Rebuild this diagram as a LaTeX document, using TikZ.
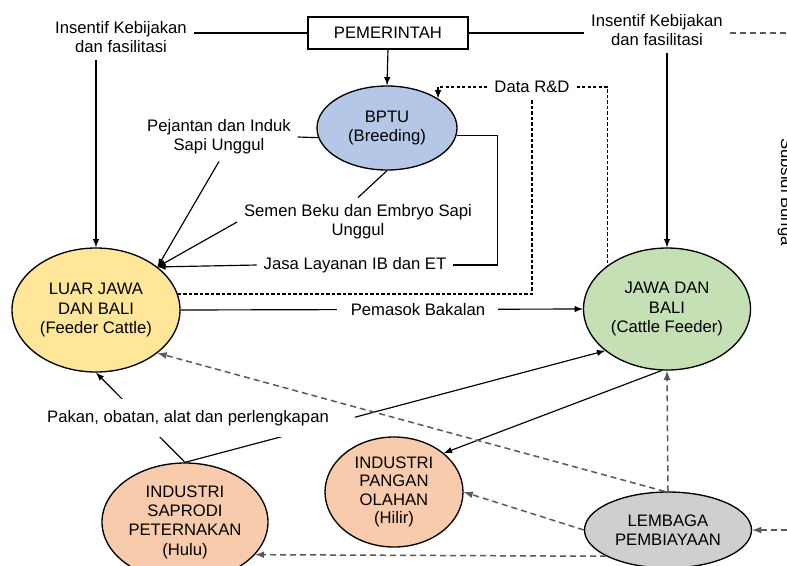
\documentclass[tikz,border=0pt]{standalone}
\usepackage{fontspec}
\setmainfont{Liberation Sans}
\usetikzlibrary{shapes.geometric,calc}

\definecolor{bptublue}{RGB}{180,199,231}
\definecolor{feederyellow}{RGB}{255,230,153}
\definecolor{cattlegreen}{RGB}{197,224,180}
\definecolor{industrisalmon}{RGB}{248,203,173}
\definecolor{banklgray}{RGB}{208,206,206}

\begin{document}
\begin{tikzpicture}[x=0.6pt,y=-0.6pt,>=latex,
  font=\fontsize{10}{11.6}\selectfont,
  oval/.style={ellipse,draw,line width=0.8pt,inner sep=0pt,align=center},
  lbl/.style={align=center,inner sep=4pt},
  link/.style={line width=0.7pt},
  rddash/.style={line width=0.75pt,dash pattern=on 2pt off 1.3pt},
  fundash/.style={line width=0.9pt,draw=black!65,dash pattern=on 3.6pt off 2.4pt}]

\useasboundingbox (0,0) rectangle (787,565);

% lembaga dan sektor
\node[draw,line width=0.8pt,minimum width=96pt,minimum height=19.2pt] (gov) at (388,33) {PEMERINTAH};
\node[oval,fill=bptublue,minimum width=84pt,minimum height=50.4pt] (bptu) at (387,128) {BPTU\\(Breeding)};
\node[oval,fill=feederyellow,minimum width=100.8pt,minimum height=74.4pt] (luar) at (96,310) {LUAR JAWA\\DAN BALI\\(Feeder Cattle)};
\node[oval,fill=cattlegreen,minimum width=100.2pt,minimum height=73.2pt] (jawa) at (667,309) {JAWA DAN\\BALI\\(Cattle Feeder)};
\node[oval,fill=industrisalmon,minimum width=99.6pt,minimum height=70.8pt] (saprodi) at (185,522) {INDUSTRI\\SAPRODI\\PETERNAKAN\\(Hulu)};
\node[oval,fill=industrisalmon,minimum width=82.8pt,minimum height=66pt,font=\fontsize{10}{11}\selectfont] (pangan) at (394,492) {INDUSTRI\\PANGAN\\OLAHAN\\(Hilir)};
\node[oval,fill=banklgray,minimum width=100.2pt,minimum height=45.6pt] (lembaga) at (668,530) {LEMBAGA\\PEMBIAYAAN};

% teks
\node[lbl] (kebL) at (121,37) {Insentif Kebijakan\\dan fasilitasi};
\node[lbl] (kebR) at (657,30) {Insentif Kebijakan\\dan fasilitasi};
\node[lbl] (rd) at (532,87) {Data R\&D};
\node[lbl] (pej) at (219,137) {Pejantan dan Induk\\Sapi Unggul};
\node[lbl] (semen) at (358,222) {Semen Beku dan Embryo Sapi\\Unggul};
\node[lbl] (jasa) at (355,265) {Jasa Layanan IB dan ET};
\node[rotate=-90,anchor=base] (subsidi) at (781,192) {Subsidi Bunga};

\coordinate (edgeT) at (787,33);
\coordinate (edgeB) at (787,530);

% pemerintah
\draw[link] (gov.west) -- (kebL.east |- gov.west);
\draw[link] (gov.east) -- (kebR.west |- gov.east);
\draw[fundash] (kebR.east |- gov.east) -- (edgeT);
\draw[link,->] (luar.north |- kebL.south) -- (luar.north);
\draw[link,->] (jawa.north |- kebR.south) -- (jawa.north);
\draw[link,->] (gov.south) -- (bptu.north);

% data R&D
\draw[rddash,->] (rd.west) -| (bptu.30);
\draw[rddash] (rd.east) -| (jawa.144);
\draw[rddash] (luar.11) -| (rd.south);

% BPTU ke luar jawa
\draw[link] (bptu.188) -- (pej.east);
\draw[link,->] (pej.south) -- (luar.35);
\draw[link] (bptu.south) -- (semen.north);
\draw[link,->] (semen.west) -- (luar.35);
\draw[link] (bptu.-6) -- ++(41,0) |- (jasa.east);
\draw[link,->] (jasa.west) -- (luar.35);

\draw[link,->] (luar.east) -- node[pos=0.59,fill=white,inner xsep=8pt] (pemasok) {Pemasok Bakalan} (jawa.west);

% industri
\draw[link,->] (saprodi.north) -- (luar.south);
\draw[link,->] (saprodi.north) -- (jawa.214);
\node[fill=white,minimum width=200pt,minimum height=22.8pt] (pakan) at (188,418) {Pakan, obatan, alat dan perlengkapan};
\draw[link,->] (jawa.265) -- (pangan.38);

% pembiayaan
\draw[fundash,->] (lembaga.north) -- (jawa.south);
\draw[fundash,->] (lembaga.95) -- (luar.-35);
\draw[fundash,->] (lembaga.west) -- (pangan.east);
\draw[fundash,->] (lembaga.203) -- (saprodi.-25);
\draw[fundash,->] (edgeB) -- (lembaga.east);

\end{tikzpicture}
\end{document}
